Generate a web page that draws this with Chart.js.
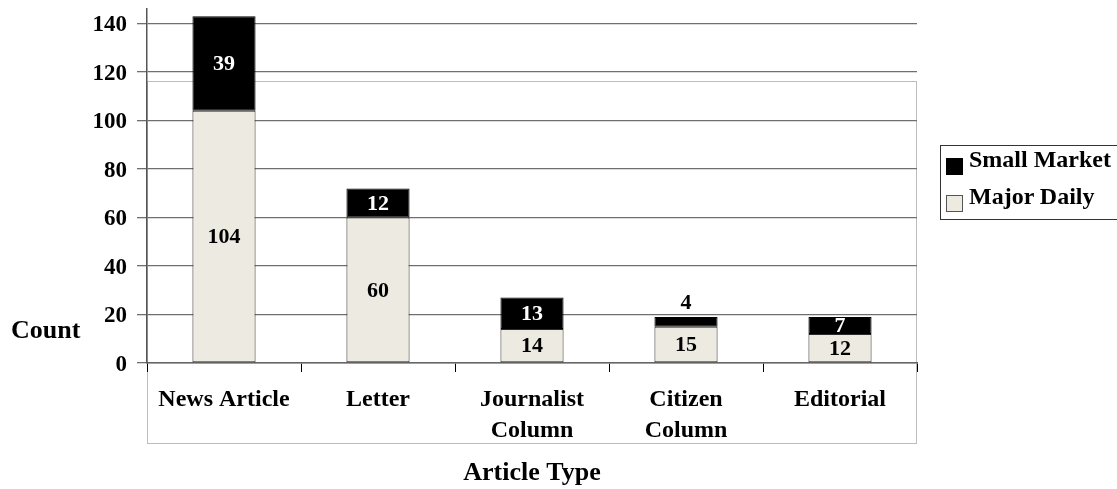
<!DOCTYPE html>
<html>
<head>
<meta charset="utf-8">
<script src="https://cdn.jsdelivr.net/npm/chart.js@4"></script>
<style>
  html, body { margin: 0; padding: 0; background: #fff; overflow: hidden; }
  #wrap { position: relative; width: 1117px; height: 489px; }
  #legend {
    position: absolute; left: 940px; top: 145px; width: 200px; height: 75px;
    border: 1px solid #333; box-sizing: border-box;
    font: bold 24px/24px "Liberation Serif", serif; color: #000;
  }
  .box { position: absolute; left: 5px; width: 17px; height: 17px; box-sizing: border-box; }
  .txt { position: absolute; left: 28px; white-space: nowrap; }
</style>
</head>
<body>
<div id="wrap">
  <canvas id="chart" width="1117" height="489"></canvas>
  <div id="legend">
    <span class="box" style="top:12px;background:#000;border:1px solid #000"></span><span class="txt" style="top:1px">Small Market</span>
    <span class="box" style="top:49px;background:#edebe1;border:1px solid #555"></span><span class="txt" style="top:38px">Major Daily</span>
  </div>
</div>
<script>
const categories = [['News Article'], ['Letter'], ['Journalist', 'Column'], ['Citizen', 'Column'], ['Editorial']];
const majorDaily = [104, 60, 14, 15, 12];
const smallMarket = [39, 12, 13, 4, 7];
const yTicks = [0, 20, 40, 60, 80, 100, 120, 140];

const serif = '"Liberation Serif", "Times New Roman", serif';

// grey box behind the plot, like the original spreadsheet export
const plotBox = {
  id: 'plotBox',
  beforeDraw(chart) {
    const ctx = chart.ctx, a = chart.chartArea;
    ctx.save();
    ctx.strokeStyle = '#bdbdbd';
    ctx.lineWidth = 1;
    ctx.strokeRect(a.left + 0.5, 81.5, a.right - a.left - 1, 362);
    ctx.restore();
  }
};

const valueLabels = {
  id: 'valueLabels',
  afterDatasetsDraw(chart) {
    const ctx = chart.ctx;
    ctx.save();
    ctx.font = 'bold 22px ' + serif;
    ctx.textAlign = 'center';
    ctx.textBaseline = 'middle';
    chart.data.datasets.forEach((ds, di) => {
      chart.getDatasetMeta(di).data.forEach((bar, i) => {
        const h = bar.base - bar.y;
        let y = (bar.y + bar.base) / 2;
        let color = di === 1 ? '#fff' : '#000';
        if (h < 14) { y = bar.y - 15; color = '#000'; }
        ctx.fillStyle = color;
        ctx.fillText(String(ds.data[i]), bar.x, y + 1);
      });
    });
    // horizontal y axis title
    ctx.font = 'bold 26px ' + serif;
    ctx.textAlign = 'left';
    ctx.fillStyle = '#000';
    ctx.fillText('Count', 11, 331);
    ctx.restore();
  }
};

new Chart(document.getElementById('chart'), {
  type: 'bar',
  data: {
    labels: categories,
    datasets: [
      { label: 'Major Daily', data: majorDaily, backgroundColor: '#edebe1', borderColor: '#2a2a2a', borderWidth: 1, borderSkipped: false },
      { label: 'Small Market', data: smallMarket, backgroundColor: '#000', borderColor: '#000', borderWidth: 1, borderSkipped: false }
    ]
  },
  options: {
    responsive: false,
    animation: false,
    layout: { padding: { left: 0, right: 200, top: 9, bottom: 0 } },
    plugins: { legend: { display: false }, tooltip: { enabled: false } },
    datasets: { bar: { barPercentage: 0.82, categoryPercentage: 0.5 } },
    scales: {
      x: {
        stacked: true,
        afterFit(s) { s.height = 126; s.paddingLeft = 0; s.paddingRight = 0; },
        grid: { drawOnChartArea: false, drawTicks: true, tickLength: 9, color: '#000', offset: true },
        border: { color: '#666', width: 1.5 },
        ticks: { color: '#000', font: { family: serif, size: 24, weight: 'bold', lineHeight: 1.3 }, padding: 12, maxRotation: 0 },
        title: { display: true, text: 'Article Type', color: '#000', font: { family: serif, size: 26, weight: 'bold' }, padding: { top: 0, bottom: 0 } }
      },
      y: {
        stacked: true,
        min: 0,
        max: 146,
        afterFit(s) { s.width = 147; s.paddingTop = 0; s.paddingBottom = 0; },
        afterBuildTicks(s) { s.ticks = yTicks.map(v => ({ value: v })); },
        grid: { color: '#6f6f6f', lineWidth: 1.3, tickLength: 10 },
        border: { color: '#555', width: 1.5 },
        ticks: { color: '#000', font: { family: serif, size: 23, weight: 'bold' }, padding: 10, labelOffset: 2 }
      }
    }
  },
  plugins: [plotBox, valueLabels]
});
</script>
</body>
</html>
